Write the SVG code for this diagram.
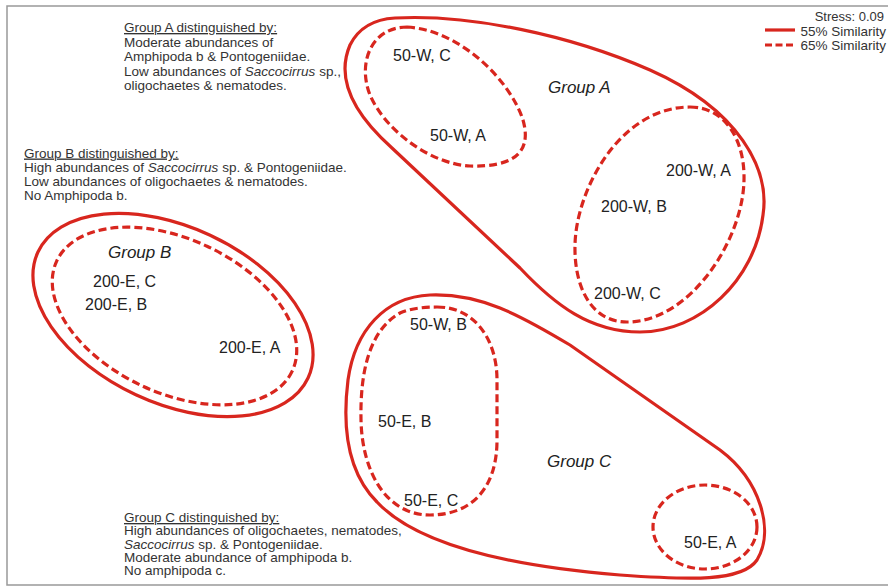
<svg xmlns="http://www.w3.org/2000/svg" width="888" height="586" viewBox="0 0 888 586">
<style>
.solid{fill:none;stroke:#d8261e;stroke-width:3.2}
.dash{fill:none;stroke:#d8261e;stroke-width:3.2;stroke-dasharray:8 4}
.lbl{font-family:"Liberation Sans",Arial,sans-serif;font-size:16px;fill:#222}
.grp{font-family:"Liberation Sans",Arial,sans-serif;font-size:17px;font-style:italic;fill:#222}
.note{font-family:"Liberation Sans",Arial,sans-serif;font-size:13.5px;fill:#333}
.leg{font-family:"Liberation Sans",Arial,sans-serif;font-size:13.5px;fill:#333}
</style>
<rect x="0" y="0" width="888" height="586" fill="#fff"/>
<rect x="7" y="6" width="900" height="579" fill="none" stroke="#999" stroke-width="1.5"/>

<g id="legend">
<text class="leg" x="884" y="20.5" text-anchor="end" style="font-size:13px">Stress: 0.09</text>
<line x1="765" y1="30" x2="795" y2="30" stroke="#d8261e" stroke-width="3.2"/>
<text class="leg" x="886" y="35.5" text-anchor="end">55% Similarity</text>
<line x1="765" y1="45" x2="795" y2="45" stroke="#d8261e" stroke-width="3.2" stroke-dasharray="7 3.5"/>
<text class="leg" x="886" y="50" text-anchor="end">65% Similarity</text>
</g>

<g id="noteA">
<text class="note" x="124" y="32"><tspan text-decoration="underline">Group A distinguished by:</tspan></text>
<text class="note" x="124" y="46.5">Moderate abundances of</text>
<text class="note" x="124" y="61">Amphipoda b &amp; Pontogeniidae.</text>
<text class="note" x="124" y="75.5">Low abundances of <tspan font-style="italic">Saccocirrus</tspan> sp.,</text>
<text class="note" x="124" y="90">oligochaetes &amp; nematodes.</text>
</g>

<g id="noteB">
<text class="note" x="24" y="157.5"><tspan text-decoration="underline">Group B distinguished by:</tspan></text>
<text class="note" x="24" y="171.8">High abundances of <tspan font-style="italic">Saccocirrus</tspan> sp. &amp; Pontogeniidae.</text>
<text class="note" x="24" y="186">Low abundances of oligochaetes &amp; nematodes.</text>
<text class="note" x="24" y="200.3">No Amphipoda b.</text>
</g>

<g id="noteC">
<text class="note" x="124" y="522"><tspan text-decoration="underline">Group C distinguished by:</tspan></text>
<text class="note" x="124" y="535.3">High abundances of oligochaetes, nematodes,</text>
<text class="note" x="124" y="548.6"><tspan font-style="italic">Saccocirrus</tspan> sp. &amp; Pontogeniidae.</text>
<text class="note" x="124" y="562">Moderate abundance of amphipoda b.</text>
<text class="note" x="124" y="575.3">No amphipoda c.</text>
</g>

<g id="connectors">
<g id="groupA-outline">
<path class="solid" d="M 395,18 C 470,14 570,35 650,70 C 740,110 770,170 763,215 C 755,280 700,332 640,332 C 590,332 555,305 520,268 L 392,148 C 355,115 335,80 350,45 C 360,25 378,19 395,18 Z"/>
<path class="dash" d="M 407,27 C 460,30 510,80 523,120 C 533,155 510,167 470,166 C 430,164 385,130 370,95 C 357,62 372,27 407,27 Z"/>
<path class="dash" d="M 690,107 C 725,107 745,140 744,180 C 743,240 690,322 627,322 C 590,322 574,285 575,245 C 576,190 620,107 690,107 Z"/>
</g>
<g id="groupB-outline">
<ellipse class="solid" cx="173" cy="315" rx="149" ry="88" transform="rotate(25 173 315)"/>
<ellipse class="dash" cx="174.5" cy="316" rx="130" ry="77" transform="rotate(25 174.5 316)"/>
</g>
<g id="groupC-outline">
<path class="solid" d="M 430,295 C 480,293 520,315 570,345 L 720,450 C 760,480 775,530 757,560 C 742,582 690,580 620,575 C 520,567 420,548 377,502 C 345,470 343,420 348,380 C 355,330 385,297 430,295 Z"/>
<path class="dash" d="M 437,307 C 475,307 497,340 497,380 L 497,440 C 497,490 470,515 430,515 C 385,515 362,470 361,420 C 360,370 370,330 400,313 C 412,308 425,307 437,307 Z"/>
<ellipse class="dash" cx="705" cy="527" rx="52" ry="42"/>
</g>
</g>

<g id="groupA">
<text class="grp" x="548" y="93">Group A</text>
<g id="n50WC"><text class="lbl" x="393" y="61">50-W, C</text></g>
<g id="n50WA"><text class="lbl" x="430" y="141">50-W, A</text></g>
<g id="n200WA"><text class="lbl" x="666" y="176">200-W, A</text></g>
<g id="n200WB"><text class="lbl" x="601" y="212">200-W, B</text></g>
<g id="n200WC"><text class="lbl" x="594" y="299">200-W, C</text></g>
</g>

<g id="groupB">
<text class="grp" x="108" y="258">Group B</text>
<g id="n200EC"><text class="lbl" x="93" y="287">200-E, C</text></g>
<g id="n200EB"><text class="lbl" x="85" y="310">200-E, B</text></g>
<g id="n200EA"><text class="lbl" x="219" y="353">200-E, A</text></g>
</g>

<g id="groupC">
<text class="grp" x="547" y="467">Group C</text>
<g id="n50WB"><text class="lbl" x="410" y="330">50-W, B</text></g>
<g id="n50EB"><text class="lbl" x="378" y="427">50-E, B</text></g>
<g id="n50EC"><text class="lbl" x="404" y="506">50-E, C</text></g>
<g id="n50EA"><text class="lbl" x="684" y="548">50-E, A</text></g>
</g>
</svg>
